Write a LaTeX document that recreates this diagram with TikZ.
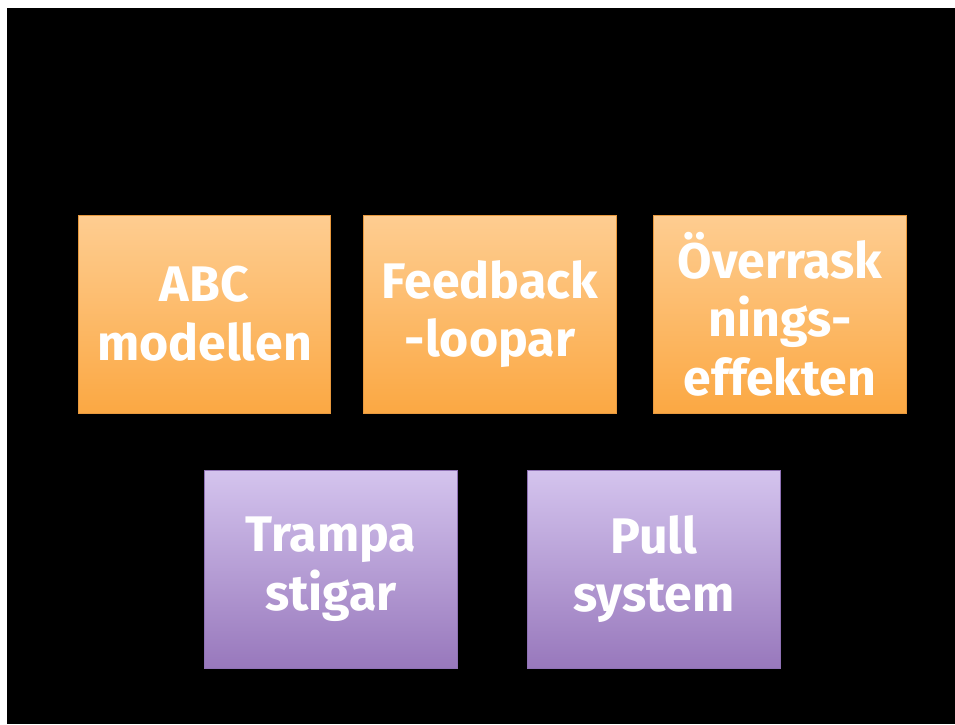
\documentclass[tikz,border=0pt]{standalone}
\usepackage{fontspec}
\setmainfont{Fira Sans}
\begin{document}
\begin{tikzpicture}[x=0.75pt,y=-0.75pt,
  box/.style={rectangle, minimum width=189.5pt, minimum height=148.5pt, inner sep=0pt,
    align=center, text=white, line width=0.6pt,
    font=\bfseries\fontsize{37.5}{44}\selectfont},
  orangebox/.style={box, top color=orTop, bottom color=orBot, draw=orLine},
  purplebox/.style={box, top color=puTop, bottom color=puBot, draw=puLine}]
\definecolor{orTop}{HTML}{FECD91}
\definecolor{orBot}{HTML}{FBA843}
\definecolor{orLine}{HTML}{E8993E}
\definecolor{puTop}{HTML}{D4C4EE}
\definecolor{puBot}{HTML}{9878BC}
\definecolor{puLine}{HTML}{8F72B5}
\useasboundingbox (0,0) rectangle (955,724);
\fill[white] (0,0) rectangle (955,724);
\fill[black] (7,8) rectangle (955,724);
\node[orangebox] (abc) at (204.5,314) {ABC\\modellen};
\node[orangebox] (feed) at (490,314) {Feedback\\-loopar};
\node[orangebox] (over) at (780,314) {Överrask\\nings-\\effekten};
\node[purplebox] (trampa) at (331,569) {Trampa\\stigar};
\node[purplebox] (pull) at (654,569) {Pull\\system};
\end{tikzpicture}
\end{document}
